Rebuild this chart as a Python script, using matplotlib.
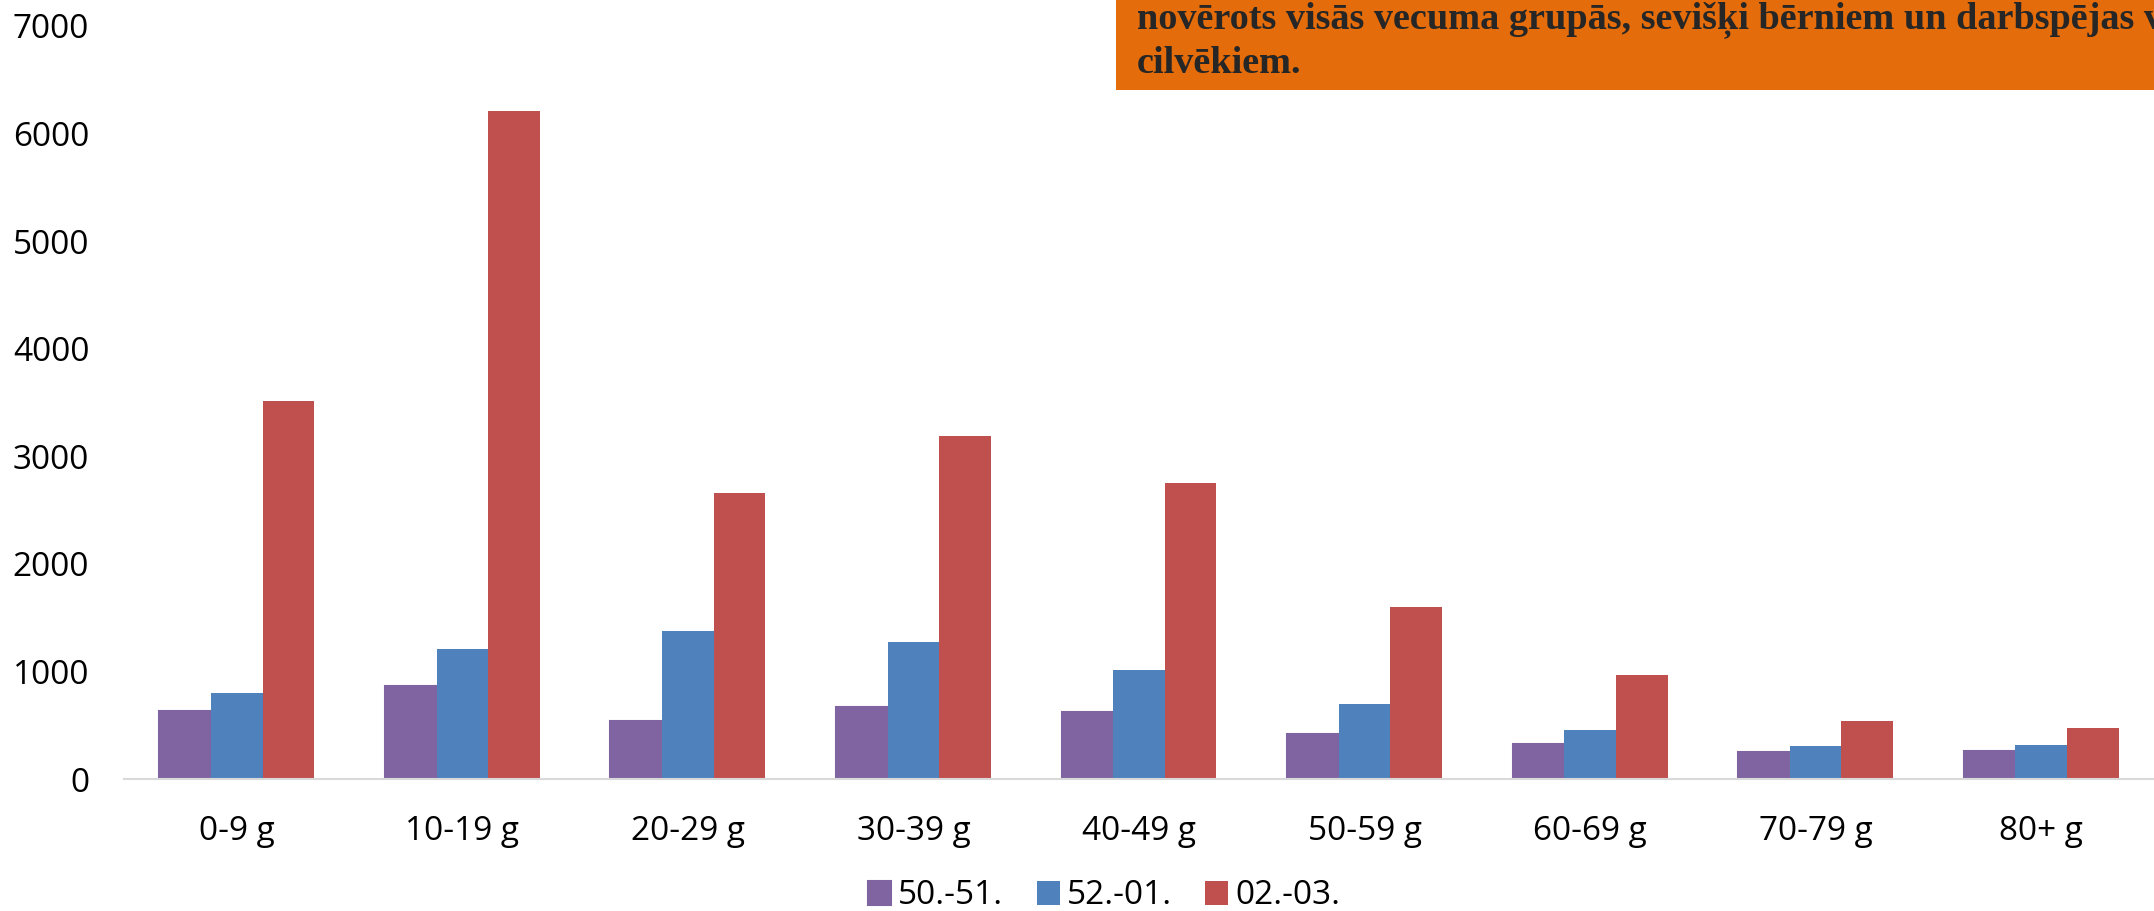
import numpy as np
import matplotlib
matplotlib.use('Agg')
import matplotlib.pyplot as plt
from matplotlib.patches import Rectangle

# Data
age_groups = ['0-9 g', '10-19 g', '20-29 g', '30-39 g', '40-49 g',
              '50-59 g', '60-69 g', '70-79 g', '80+ g']
series_names = ['50.-51.', '52.-01.', '02.-03.']
week_50_51 = [635, 864, 535, 669, 623, 415, 325, 247, 260]
week_52_01 = [799, 1208, 1378, 1273, 1013, 700, 452, 309, 316]
week_02_03 = [3516, 6211, 2661, 3193, 2751, 1601, 963, 535, 474]
colors = ['#8064A2', '#4F81BD', '#C0504D']

note_lines = ['novērots visās vecuma grupās, sevišķi bērniem un darbspējas vecuma',
              'cilvēkiem.']

plt.rcParams['font.family'] = ['Open Sans', 'DejaVu Sans']

W, H = 2154, 911
fig = plt.figure(figsize=(W / 100, H / 100), dpi=100)
ax = fig.add_axes([124 / W, 1 - 779 / H, (W - 124) / W, (779 - 26) / H])

x = np.arange(len(age_groups))
width = 0.229
for i, (vals, name) in enumerate(zip([week_50_51, week_52_01, week_02_03], series_names)):
    ax.bar(x + (i - 1) * width, vals, width, color=colors[i], label=name,
           edgecolor=colors[i] if i == 0 else 'none', linewidth=1.5 if i == 0 else 0)

ax.set_xlim(-0.5, 8.5)
ax.set_ylim(0, 7000)
ax.set_yticks(range(0, 7001, 1000))
ax.set_xticks(x)
ax.set_xticklabels(age_groups)

for s in ['top', 'right', 'left']:
    ax.spines[s].set_visible(False)
ax.spines['bottom'].set_color('#D9D9D9')
ax.spines['bottom'].set_linewidth(1.5)
ax.tick_params(axis='both', length=0, labelsize=24, colors='black')
ax.tick_params(axis='x', pad=26)
ax.tick_params(axis='y', pad=25)

fig.legend(loc='center', bbox_to_anchor=(1104 / W, 1 - 896 / H), ncol=3,
           frameon=False, fontsize=24, handlelength=0.7, handleheight=0.7,
           handletextpad=0.2, columnspacing=1.0)

# orange note box in the upper right (cut off by the figure edge)
fig.add_artist(Rectangle((1116 / W, 1 - 90 / H), 1 - 1116 / W, 90 / H,
                         transform=fig.transFigure, facecolor='#E46C0A',
                         edgecolor='none', zorder=5))
fig.text(1137 / W, 1 - 28 / H, note_lines[0], family='Liberation Serif',
         weight='bold', fontsize=27.5, color='#262626', va='baseline', zorder=6)
fig.text(1137 / W, 1 - 73 / H, note_lines[1], family='Liberation Serif',
         weight='bold', fontsize=27.5, color='#262626', va='baseline', zorder=6)

fig.savefig('out.png', dpi=100)
